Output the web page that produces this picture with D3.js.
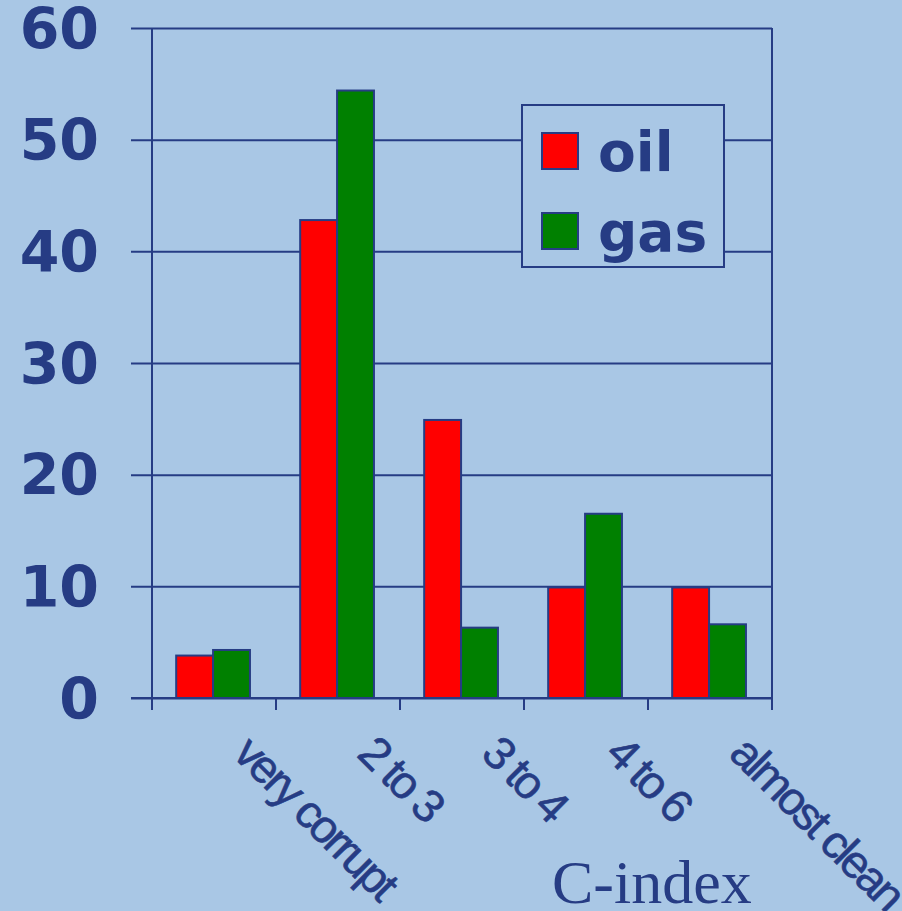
<!DOCTYPE html>
<html><head><meta charset="utf-8">
<script src="https://cdn.jsdelivr.net/npm/d3@7"></script>
<style>
html,body{margin:0;padding:0;background:#a9c7e5;}
svg{display:block;}
</style></head>
<body>
<script>
const categories = ["very corrupt", "2 to 3", "3 to 4", "4 to 6", "almost clean"];
const seriesNames = ["oil", "gas"];
const oilValues = [3.8, 42.8, 24.9, 9.9, 9.9];
const gasValues = [4.3, 54.4, 6.3, 16.5, 6.6];
const yTicks = [0, 10, 20, 30, 40, 50, 60];
const xTitle = "C-index";
const colors = {oil: "#ff0000", gas: "#008000"};

(function(){
const W = 902, H = 911;
const ink = "#263c84";
const svg = d3.select("body").append("svg").attr("width", W).attr("height", H);
svg.append("rect").attr("width", W).attr("height", H).attr("fill", "#a9c7e5");

const pL = 152, pR = 772, pT = 28, pB = 698;
const x = d3.scaleBand().domain(categories).range([pL, pR]).padding(0);
const bw = x.bandwidth();
const xs = d3.scaleBand().domain(seriesNames).range([bw * 0.195, bw * 0.79]).padding(0);
const y = d3.scaleLinear().domain([0, 60]).range([pB, pT]);

// gridlines + y ticks
const yAxis = d3.axisLeft(y).tickValues(yTicks).tickSize(-(pR - pL)).tickFormat("");
const gy = svg.append("g").attr("transform", `translate(${pL},0)`).call(yAxis);
gy.select(".domain").remove();
gy.selectAll(".tick line").attr("stroke", ink).attr("stroke-width", 2).attr("x1", -21);

// y labels
svg.append("g").selectAll("text").data(yTicks).join("text")
  .attr("x", 99).attr("y", d => y(d)).attr("dy", "0.36em")
  .attr("text-anchor", "end")
  .attr("font-family", "DejaVu Sans").attr("font-weight", "bold").attr("font-size", 57)
  .attr("fill", ink).text(d => d);

// bars
const rows = categories.map((c, i) => ({cat: c, oil: oilValues[i], gas: gasValues[i]}));
const groups = svg.append("g").selectAll("g").data(rows).join("g")
  .attr("transform", d => `translate(${x(d.cat)},0)`);
groups.selectAll("rect").data(d => seriesNames.map(k => ({k, v: d[k]}))).join("rect")
  .attr("x", d => xs(d.k)).attr("width", xs.bandwidth())
  .attr("y", d => y(d.v)).attr("height", d => y(0) - y(d.v))
  .attr("fill", d => colors[d.k]).attr("stroke", ink).attr("stroke-width", 2);

// axes lines
svg.append("line").attr("x1", pL).attr("x2", pL).attr("y1", pT).attr("y2", 710)
  .attr("stroke", ink).attr("stroke-width", 2);
svg.append("line").attr("x1", pR).attr("x2", pR).attr("y1", pT).attr("y2", 710)
  .attr("stroke", ink).attr("stroke-width", 2);
svg.append("line").attr("x1", 131).attr("x2", pR).attr("y1", pB).attr("y2", pB)
  .attr("stroke", ink).attr("stroke-width", 2);
const edges = categories.map(c => x(c)).concat([pR]);
svg.append("g").selectAll("line").data(edges).join("line")
  .attr("x1", d => d).attr("x2", d => d).attr("y1", pB).attr("y2", 710)
  .attr("stroke", ink).attr("stroke-width", 2);

// x labels rotated
svg.append("g").selectAll("text").data(categories).join("text")
  .attr("transform", d => `translate(${x(d) + bw / 2 + 42},${731}) rotate(45)`)
  .attr("dy", "0.75em")
  .attr("font-family", "Liberation Sans").attr("font-size", 46)
  .attr("letter-spacing", -3)
  .attr("stroke", ink).attr("stroke-width", 0.6)
  .attr("fill", ink).text(d => d);

// x title
svg.append("text").attr("x", 552).attr("y", 903)
  .attr("font-family", "Liberation Serif").attr("font-size", 62)
  .attr("fill", ink).text(xTitle);

// legend
const lg = svg.append("g");
lg.append("rect").attr("x", 522).attr("y", 105).attr("width", 202).attr("height", 162)
  .attr("fill", "#a9c7e5").attr("stroke", ink).attr("stroke-width", 2);
const li = lg.selectAll("g").data(seriesNames).join("g")
  .attr("transform", (d, i) => `translate(542,${133 + i * 80})`);
li.append("rect").attr("width", 36).attr("height", 36)
  .attr("fill", d => colors[d]).attr("stroke", ink).attr("stroke-width", 2);
li.append("text").attr("x", 56).attr("y", 38)
  .attr("font-family", "DejaVu Sans").attr("font-weight", "bold").attr("font-size", 55)
  .attr("fill", ink).text(d => d);
})();
</script>
</body></html>
